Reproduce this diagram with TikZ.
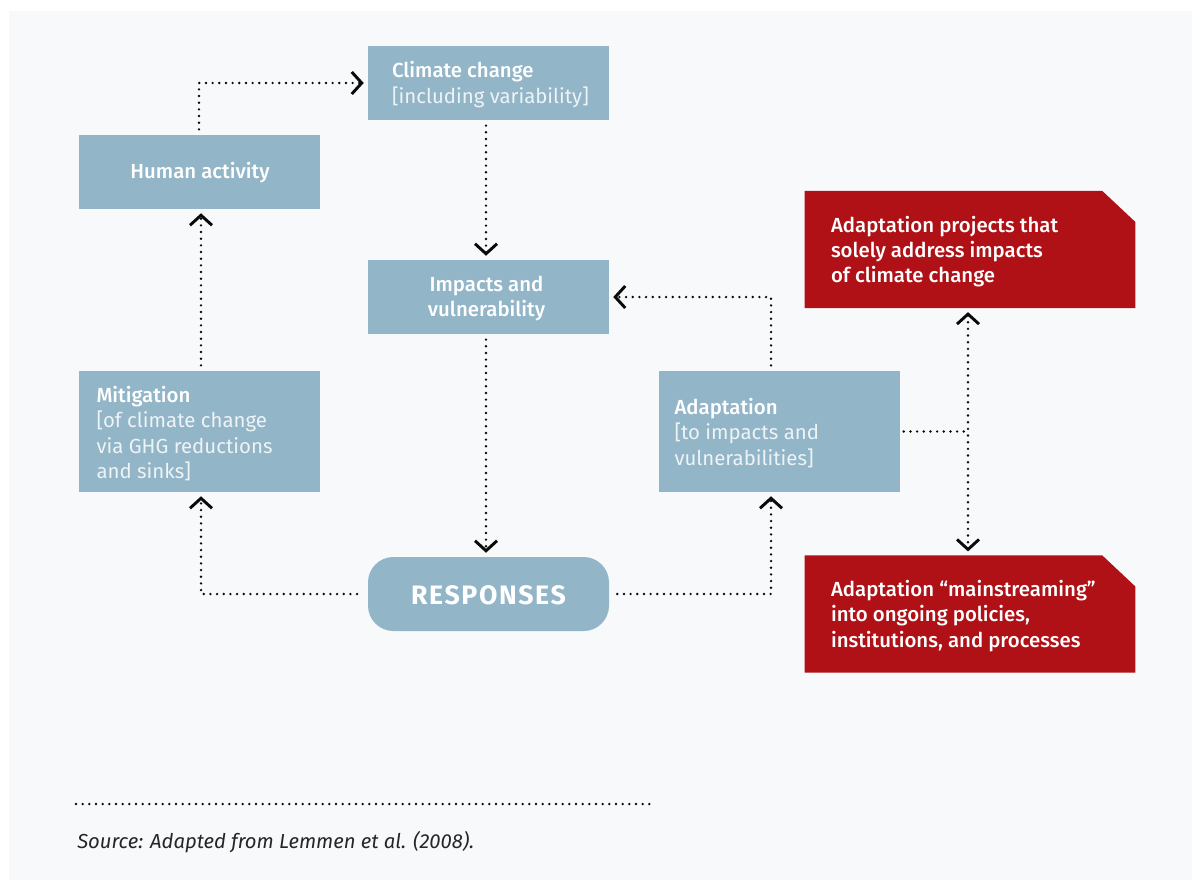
\documentclass[tikz,border=0pt]{standalone}
\usepackage{fontspec}
\setmainfont{Fira Sans}
\IfFontExistsTF{Fira Sans Medium}{\newfontfamily\headfont{Fira Sans Medium}}{\newfontfamily\headfont{Fira Sans}}
\newfontfamily\subfont{Fira Sans}
\usetikzlibrary{arrows.meta,calc}

\definecolor{panel}{HTML}{F8F9FB}
\definecolor{boxblue}{HTML}{93B5C8}
\definecolor{boxred}{HTML}{AF1117}
\definecolor{dotc}{HTML}{0A0A0A}
\definecolor{subwhite}{HTML}{EEF3F6}

\begin{document}
\begin{tikzpicture}[x=0.75pt,y=-0.75pt,
  box/.style={fill=boxblue, inner sep=0pt, minimum width=180.75pt, minimum height=55.5pt},
  tallbox/.style={box, minimum height=90.75pt},
  redbox/.style={inner sep=0pt, minimum width=247.5pt, minimum height=87.5pt},
  lbl/.style={text=white, align=left, inner sep=0pt, font=\headfont\fontsize{15.3}{19}\selectfont},
  clbl/.style={lbl, align=center},
  conn/.style={draw=dotc, line width=2pt, dash pattern=on 0pt off 5pt, line cap=round},
  arr/.style={-{Straight Barb[length=7.5pt,width=16.5pt,line width=2.2pt]}, shorten >=3pt},
  biarr/.style={{Straight Barb[length=7.5pt,width=16.5pt,line width=2.2pt]}-{Straight Barb[length=7.5pt,width=16.5pt,line width=2.2pt]}, shorten >=3pt, shorten <=3pt}
]
% page and panel
\fill[white] (0,0) rectangle (1201,886);
\useasboundingbox (0,0) rectangle (1201,886);
\fill[panel] (9,11) rectangle (1192,880);

% blue boxes
\node[box] (cc) at (488.5,83) {};
\node[box] (ha) at (199,172) {};
\node[box] (iv) at (488.5,297) {};
\node[tallbox] (mit) at (199,431.5) {};
\node[tallbox] (ad) at (779,431.5) {};
\node[box, rounded corners=19pt] (resp) at (488.5,594) {};

% red boxes with a cut top-right corner
\node[redbox] (r1) at (970,249.5) {};
\node[redbox] (r2) at (970,614) {};
\foreach \r in {r1,r2}{
  \fill[boxred] (\r.south west) -- (\r.north west) -- ($(\r.north east)+(-33,0)$)
    -- ($(\r.north east)+(0,31)$) -- (\r.south east) -- cycle;
}

% box texts
\node[lbl, anchor=west] (cc-t) at ($(cc.west)+(24,1.5)$) {Climate change\\{\subfont\color{subwhite}[including variability]}};
\node[clbl] (ha-t) at ($(ha.center)+(1,1)$) {Human activity};
\node[clbl] (iv-t) at ($(iv.center)+(-2,1.5)$) {Impacts and\\vulnerability};
\node[lbl, anchor=west] (mit-t) at ($(mit.west)+(18,2)$) {Mitigation\\{\subfont\color{subwhite}[of climate change}\\{\subfont\color{subwhite}via GHG reductions}\\{\subfont\color{subwhite}and sinks]}};
\node[lbl, anchor=west] (ad-t) at ($(ad.west)+(16,1.5)$) {Adaptation\\{\subfont\color{subwhite}[to impacts and}\\{\subfont\color{subwhite}vulnerabilities]}};
\node[text=white, inner sep=0pt, font=\bfseries\fontsize{20}{24}\selectfont\addfontfeatures{LetterSpace=6}] (resp-t) at ($(resp.center)+(0,1.5)$) {RESPONSES};
\node[lbl, anchor=west] (r1-t) at ($(r1.west)+(26,2)$) {Adaptation projects that\\solely address impacts\\of climate change};
\node[lbl, anchor=west] (r2-t) at ($(r2.west)+(26,2)$) {Adaptation “mainstreaming”\\into ongoing policies,\\institutions, and processes};

% connectors
\draw[conn, arr, shorten <=4pt] (ha.north) |- (cc.west);
\draw[conn, arr, shorten <=4pt] ($(cc.south)+(-2.5,0)$) -- ($(iv.north)+(-2.5,0)$);
\draw[conn, arr, shorten <=4pt] ($(iv.south)+(-2.5,0)$) -- ($(resp.north)+(-2.5,0)$);
\draw[conn, arr, shorten <=8pt] (resp.west) -| ($(mit.south)+(2,0)$);
\draw[conn, arr, shorten <=4pt] ($(mit.north)+(2,0)$) -- ($(ha.south)+(2,0)$);
\draw[conn, arr, shorten <=6pt] (resp.east) -| ($(ad.south)+(-8,0)$);
\draw[conn, arr, shorten <=4pt] ($(ad.north)+(-8,0)$) |- (iv.east);
\coordinate (j) at ($(ad.east -| r1.south)+(-2,0)$);
\draw[conn, shorten <=3pt] (ad.east) -- (j);
\draw[conn, biarr] ($(r1.south)+(-2,0)$) -- ($(r2.north)+(-2,0)$);

% source line
\coordinate (s0) at (76,804);
\coordinate (s1) at (655,804);
\draw[conn] (s0) -- (s1);
\node[anchor=west, inner sep=0pt, text=black!85, font=\itshape\fontsize{15.2}{18}\selectfont] (src) at (77,842) {Source: Adapted from Lemmen et al. (2008).};
\end{tikzpicture}
\end{document}
